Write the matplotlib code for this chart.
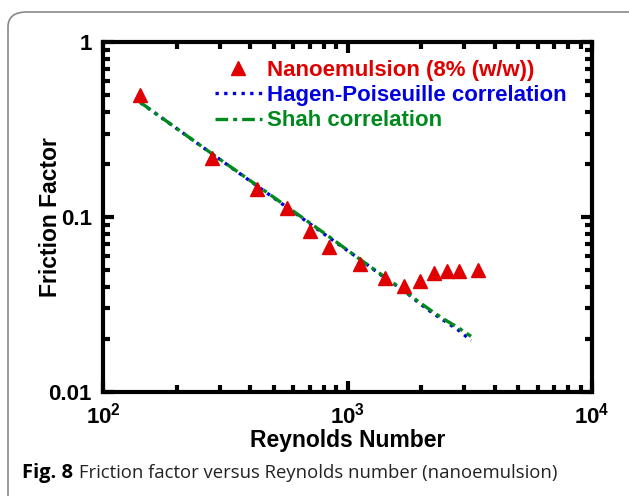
import numpy as np
import matplotlib
matplotlib.use('Agg')
import matplotlib.pyplot as plt
from matplotlib.patches import FancyBboxPatch
from matplotlib.ticker import LogLocator, FuncFormatter, NullFormatter

# measured points (nanoemulsion 8% w/w)
re_data = [142, 280, 428, 568, 705, 843, 1130, 1418, 1698, 1973, 2250, 2545, 2850, 3410]
f_data = [0.495, 0.217, 0.1445, 0.1125, 0.083, 0.0674, 0.0539, 0.0448, 0.0403, 0.043, 0.0479, 0.049, 0.049, 0.0498]

# correlation curves
re_line = [142, 280, 428, 568, 705, 843, 1130, 1418, 1698, 1973, 2250, 2545, 2850, 3200]
f_hagen = [0.451, 0.229, 0.150, 0.113, 0.091, 0.076, 0.057, 0.045, 0.038, 0.032, 0.028, 0.025, 0.0225, 0.0197]
f_shah = [0.452, 0.229, 0.151, 0.114, 0.092, 0.077, 0.057, 0.0455, 0.038, 0.0325, 0.0285, 0.0255, 0.0232, 0.0208]

labels = ['Nanoemulsion (8% (w/w))', 'Hagen-Poiseuille correlation', 'Shah correlation']
red, blue, green = '#e00000', '#0000e0', '#008a1e'

plt.rcParams['font.family'] = ['Liberation Sans', 'DejaVu Sans']
plt.rcParams['font.weight'] = 'bold'
plt.rcParams['mathtext.fontset'] = 'custom'
plt.rcParams['mathtext.rm'] = 'Liberation Sans:bold'
plt.rcParams['mathtext.bf'] = 'Liberation Sans:bold'

fig = plt.figure(figsize=(6.29, 4.96), dpi=100)
ax = fig.add_axes([0.1638, 0.2097, 0.7774, 0.7056])

ax.plot(re_data, f_data, ls='none', marker='^', ms=10, color=red, mec=red, label=labels[0], zorder=3)
ax.plot(re_line, f_hagen, ls=(0, (1, 1.6)), lw=2.4, color=blue, label=labels[1])
ax.plot(re_line, f_shah, ls=(0, (3.8, 1.5, 1.2, 1.5)), lw=2.4, color=green, label=labels[2])

ax.set_xscale('log')
ax.set_yscale('log')
ax.set_xlim(100, 10000)
ax.set_ylim(0.01, 1)

ax.xaxis.set_major_formatter(FuncFormatter(lambda v, p: r'$10^{%d}$' % round(np.log10(v))))
ax.yaxis.set_major_formatter(FuncFormatter(lambda v, p: ('%g' % v)))
ax.xaxis.set_minor_formatter(NullFormatter())
ax.yaxis.set_minor_formatter(NullFormatter())
ax.xaxis.set_minor_locator(LogLocator(base=10, subs=np.arange(2, 10)))
ax.yaxis.set_minor_locator(LogLocator(base=10, subs=np.arange(2, 10)))

ax.tick_params(which='both', direction='in', top=True, right=True, width=3, labelsize=16)
ax.tick_params(which='major', length=8, pad=8)
ax.tick_params(which='minor', length=5)
for s in ax.spines.values():
    s.set_linewidth(3)

ax.set_xlabel('Reynolds Number', fontsize=16.5, fontweight='bold', labelpad=0)
ax.set_ylabel('Friction Factor', fontsize=16.5, fontweight='bold')
ax.yaxis.set_label_coords(-0.084, 0.5)

leg = ax.legend(loc='upper left', bbox_to_anchor=(0.229, 0.950), frameon=False,
                fontsize=16, handlelength=2.1, handletextpad=0.22, labelspacing=0.2,
                borderpad=0, borderaxespad=0)
for t, c in zip(leg.get_texts(), [red, blue, green]):
    t.set_color(c)

# rounded frame around figure + caption
frame = FancyBboxPatch((8 / 629, -0.05), 1.1, 1.0 - 12 / 496 + 0.05,
                       boxstyle='round,pad=0,rounding_size=0.03', transform=fig.transFigure,
                       fill=False, ec='#888888', lw=1.2)
fig.patches.append(frame)

cap = ['Open Sans', 'DejaVu Sans']
fig.text(22 / 629, 1 - 473 / 496, 'Fig. 8', family=cap, fontweight='bold', fontsize=14.5, va='center')
fig.text(79 / 629, 1 - 473 / 496, 'Friction factor versus Reynolds number (nanoemulsion)',
         family=cap, fontweight='normal', fontsize=13.3, va='center', color='#222222')

fig.savefig('out.png', dpi=100)
